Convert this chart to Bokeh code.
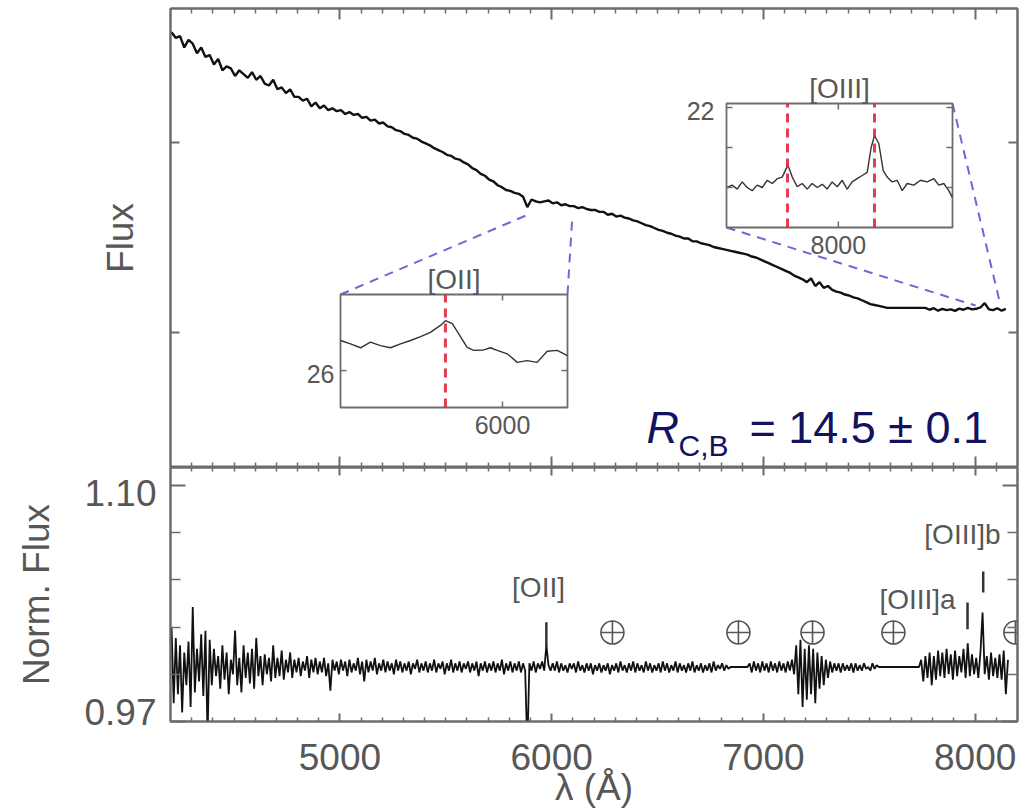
import numpy as np
from bokeh.plotting import figure
from bokeh.models import (Range1d, LinearAxis, FixedTicker, CustomJSTickFormatter,
                          CustomLabelingPolicy)
from bokeh.layouts import column
from bokeh.embed import file_html
from bokeh.resources import INLINE
from bokeh.core.properties import value

# ---------------- data ----------------
flux_wave = np.arange(4205, 8160, 20)          # Å, sampling grid of the top spectrum
flux_values = [
    35.8, 35.5, 35.6, 35.0, 35.4, 35.2, 34.7, 35.0, 34.5, 34.6,
    34.1, 34.4, 33.8, 34.0, 33.9, 33.5, 33.8, 33.6, 33.4, 33.7,
    33.3, 33.5, 33.1, 33.0, 33.3, 32.8, 32.9, 32.6, 32.8, 32.4,
    32.4, 32.2, 32.3, 31.9, 32.1, 31.8, 31.95, 31.7, 31.8, 31.65,
    31.7, 31.5, 31.6, 31.45, 31.5, 31.3, 31.35, 31.15, 31.2, 31.0,
    31.05, 30.85, 30.8, 30.65, 30.6, 30.45, 30.4, 30.25, 30.2, 30.05,
    29.95, 29.85, 29.7, 29.6, 29.5, 29.35, 29.3, 29.15, 29.1, 28.95,
    28.85, 28.65, 28.55, 28.35, 28.25, 28.05, 27.95, 27.75, 27.65, 27.5,
    27.45, 27.35, 27.3, 27.15, 26.6, 27.0, 26.9, 26.85, 26.9, 26.95,
    26.8, 26.85, 26.7, 26.75, 26.65, 26.65, 26.55, 26.6, 26.5, 26.45,
    26.45, 26.35, 26.35, 26.2, 26.25, 26.1, 26.15, 26.05, 26.0, 25.9,
    25.85, 25.75, 25.65, 25.6, 25.5, 25.4, 25.35, 25.25, 25.2, 25.1,
    25.05, 24.95, 24.95, 24.8, 24.8, 24.7, 24.65, 24.6, 24.5, 24.45,
    24.4, 24.35, 24.3, 24.25, 24.2, 24.15, 24.1, 24.0, 23.95, 23.85,
    23.75, 23.65, 23.55, 23.45, 23.35, 23.25, 23.15, 23.0, 22.9, 22.8,
    22.65, 22.85, 22.45, 22.65, 22.35, 22.45, 22.25, 22.15, 22.1, 22.0,
    21.95, 21.85, 21.8, 21.7, 21.6, 21.5, 21.45, 21.4, 21.35, 21.3,
    21.3, 21.3, 21.3, 21.3, 21.3, 21.3, 21.3, 21.3, 21.3, 21.2,
    21.28, 21.15, 21.25, 21.18, 21.22, 21.14, 21.26, 21.2, 21.3, 21.22,
    21.25, 21.32, 21.55, 21.22, 21.18, 21.28, 21.15, 21.25,
]

norm_wave = np.arange(4205, 8160, 10)          # Å, sampling grid of the normalised spectrum
norm_values = [
    1.022, 0.980, 1.016, 0.985, 1.012, 0.975, 1.008, 0.990, 1.014, 0.978,
    1.033, 0.986, 1.010, 0.992, 1.018, 0.984, 1.020, 0.962, 1.015, 0.990,
    1.010, 0.995, 1.006, 0.988, 1.012, 0.993, 1.008, 0.985, 1.004, 0.996,
    1.020, 0.990, 1.005, 0.986, 1.012, 0.994, 1.008, 0.991, 1.010, 0.988,
    1.016, 0.995, 1.006, 0.990, 1.007, 0.996, 1.005, 0.992, 1.012, 0.994,
    1.005, 0.995, 1.009, 0.993, 1.004, 0.997, 1.008, 0.994, 1.004, 0.997,
    1.005, 0.995, 1.003, 0.998, 1.006, 0.994, 1.004, 0.997, 1.005, 0.996,
    1.003, 0.997, 1.005, 0.995, 1.002, 0.987, 1.004, 0.998, 1.003, 0.996,
    1.004, 0.998, 1.003, 0.995, 1.004, 0.997, 1.002, 0.998, 1.005, 0.996,
    1.003, 0.992, 1.004, 0.997, 1.003, 0.998, 1.005, 0.996, 1.002, 0.998,
    1.004, 0.997, 1.003, 0.998, 1.002, 0.996, 1.004, 0.998, 1.003, 0.997,
    1.002, 0.998, 1.003, 0.996, 1.002, 0.999, 1.004, 0.997, 1.002, 0.998,
    1.003, 0.997, 1.002, 0.998, 1.004, 0.997, 1.002, 0.999, 1.003, 0.996,
    1.002, 0.998, 1.004, 0.997, 1.002, 0.998, 1.003, 0.997, 1.002, 0.999,
    1.003, 0.997, 1.002, 0.998, 1.003, 0.995, 1.002, 0.998, 1.003, 0.997,
    1.002, 0.998, 1.003, 0.997, 1.002, 0.998, 1.004, 0.996, 1.002, 0.998,
    1.003, 0.997, 1.002, 0.998, 1.003, 0.997, 1.002, 0.998, 0.955, 1.002,
    0.998, 1.003, 0.997, 1.002, 0.999, 1.003, 0.998, 1.012, 1.001, 0.998,
    1.002, 0.998, 1.003, 0.997, 1.002, 0.998, 1.001, 0.997, 1.002, 0.999,
    1.002, 0.997, 1.003, 0.998, 1.001, 0.997, 1.002, 0.998, 1.002, 0.996,
    1.001, 0.998, 1.002, 0.997, 1.001, 0.998, 1.002, 0.996, 1.001, 0.998,
    1.002, 0.997, 1.003, 0.998, 1.001, 0.997, 1.002, 0.998, 1.003, 0.997,
    1.002, 0.998, 1.001, 0.997, 1.003, 0.998, 1.002, 0.997, 1.001, 0.998,
    1.002, 0.997, 1.003, 0.998, 1.002, 0.997, 1.001, 0.998, 1.003, 0.997,
    1.002, 0.998, 1.001, 0.997, 1.002, 0.998, 1.003, 0.997, 1.001, 0.998,
    1.002, 0.997, 1.001, 0.998, 1.002, 0.997, 1.003, 0.998, 1.001, 0.999,
    1.002, 0.998, 1.001, 0.999, 1.000, 1.000, 1.000, 1.000, 1.000, 1.000,
    1.000, 1.000, 1.000, 1.002, 0.997, 1.003, 0.998, 1.002, 0.997, 1.003,
    0.998, 1.002, 0.997, 1.003, 0.998, 1.002, 0.997, 1.003, 0.998, 1.002,
    0.997, 1.003, 0.998, 1.004, 0.996, 1.012, 0.985, 1.015, 0.978, 1.010,
    0.982, 1.012, 0.985, 1.010, 0.980, 1.008, 0.988, 1.006, 0.990, 1.004,
    0.994, 1.003, 0.997, 1.002, 0.998, 1.002, 0.997, 1.002, 0.998, 1.001,
    0.998, 1.002, 0.997, 1.002, 0.998, 1.001, 0.998, 1.002, 0.999, 1.000,
    0.998, 1.002, 0.999, 1.001, 1.000, 1.000, 1.000, 1.000, 1.000, 1.000,
    1.000, 1.000, 1.000, 1.000, 1.000, 1.000, 1.000, 1.000, 1.000, 1.000,
    1.000, 1.000, 1.000, 1.000, 1.004, 0.992, 1.006, 0.994, 1.008, 0.990,
    1.006, 0.993, 1.009, 0.995, 1.008, 0.994, 1.010, 0.996, 1.007, 0.993,
    1.009, 0.995, 1.006, 0.997, 1.010, 0.994, 1.013, 0.995, 1.007, 0.996,
    1.005, 0.994, 1.008, 1.030, 0.996, 1.006, 0.993, 1.008, 0.995, 1.005,
    0.994, 1.007, 0.993, 1.009, 0.985, 1.004,
]

# [OII] inset
oii_inset_wave = [5929, 5933.4, 5937.8, 5942.1, 5946.5, 5950.9, 5955.3, 5959.7, 5964.1, 5968.4,
                  5972.8, 5975.0, 5978.0, 5980.9, 5984.5, 5987.4, 5991.8, 5994.7, 5997.7, 6002.1,
                  6006.5, 6010.8, 6015.2, 6019.6, 6024.0, 6028.4]
oii_inset_flux = [26.70, 26.62, 26.53, 26.66, 26.58, 26.53, 26.62, 26.70, 26.79, 26.89,
                  27.05, 27.16, 27.09, 26.85, 26.54, 26.47, 26.48, 26.53, 26.47, 26.39,
                  26.19, 26.23, 26.19, 26.45, 26.47, 26.35]
oii_inset_xlim = (5929, 6028.5)
oii_inset_ylim = (25.14, 27.77)
oii_inset_xticks = [6000]
oii_inset_yticks = [26]
oii_line_wave = [5975]

# [OIII] inset
oiii_inset_wave = [7901.6, 7906, 7910.5, 7914.9, 7919.3, 7923.7, 7928.2, 7932.6, 7937, 7941.5,
                   7945.9, 7950.3, 7955.3, 7959.2, 7963.6, 7968, 7972.4, 7976.8, 7981.3, 7985.7,
                   7990.1, 7994.5, 7999, 8003.4, 8007.8, 8012.2, 8016.6, 8021.1, 8025.5, 8029,
                   8032, 8035.8, 8039.7, 8043.2, 8047.6, 8052, 8056.5, 8060.9, 8066.8, 8072.7,
                   8078.6, 8084.5, 8088.9, 8093.3, 8097.7, 8100.7]
oiii_inset_flux = [21.00, 21.03, 20.98, 21.07, 21.00, 20.96, 21.03, 21.00, 21.09, 21.05,
                   21.11, 21.13, 21.28, 21.13, 21.01, 21.05, 20.98, 21.05, 21.00, 21.04,
                   20.98, 21.07, 21.01, 21.09, 20.98, 21.07, 21.11, 21.15, 21.19, 21.50,
                   21.65, 21.55, 21.21, 21.13, 21.07, 21.09, 20.96, 21.05, 21.03, 21.09,
                   21.07, 21.11, 21.03, 21.05, 20.96, 20.88]
oiii_inset_xlim = (7901, 8101)
oiii_inset_ylim = (20.5, 22.05)
oiii_inset_xticks = [8000]
oiii_inset_yticks = [21.0, 21.5, 22.0]
oiii_inset_ylabel_ticks = [22]
oiii_line_wave = [7955, 8032]

# zoom windows on the main spectrum (where connectors end)
oii_zoom_wave = [5900, 6098]
oii_zoom_flux = [26.26, 26.16]
oiii_zoom_wave = [8002, 8120]
oiii_zoom_flux = [21.42, 21.42]

# lower panel annotations
telluric_wave = [6287, 6882, 7232, 7614, 8190]
telluric_level = 1.019
line_mark_wave = [5975, 7964, 8038]
line_mark_low = [1.011, 1.0208, 1.041]
line_mark_high = [1.0246, 1.0355, 1.0525]
line_label_text = ["[OII]", "[OIII]a", "[OIII]b"]
line_label_wave = [5938, 7728, 7940]
line_label_level = [1.0437, 1.0372, 1.0727]

# axes
x_major_ticks = [5000, 6000, 7000, 8000]
x_minor_ticks = [4300, 4400, 4500, 4600, 4700, 4800, 4900, 5100, 5200, 5300, 5400, 5500, 5600,
                 5700, 5800, 5900, 6100, 6200, 6300, 6400, 6500, 6600, 6700, 6800, 6900, 7100,
                 7200, 7300, 7400, 7500, 7600, 7700, 7800, 7900, 8100]
flux_ticks = [20, 30]
norm_label_ticks = [0.97, 1.10]
norm_label_text = ["0.97", "1.10"]
norm_minor_ticks = [0.996, 1.022, 1.048, 1.074]

MAIN_X = (4200, 8200)
FLUX_Y = (12.9, 37.05)
NORM_Y = (0.97, 1.1098)

# ---------------- layout constants (pixels) ----------------
W = 1029
FRAME_L, FRAME_R = 170, 1017
TOP_FRAME_T, TOP_FRAME_B = 8, 467
BOT_FRAME_B = 723
BOT_H = 810 - 467
OII_BOX = dict(left=340, right=567, top=294, bottom=407)
OIII_BOX = dict(left=726, right=952, top=103, bottom=227)
NORM_LABEL_SHIFT_PX = [-10, 8]   # IDL draws the end labels slightly inside the axis

GRAY = "#6c6c6c"
TEXT = "#575757"
FONT = "Liberation Sans"
NAVY = "#12125f"


def mx(px):
    return MAIN_X[0] + (px - FRAME_L) * (MAIN_X[1] - MAIN_X[0]) / (FRAME_R - FRAME_L)


def my(py):
    return FLUX_Y[1] - (py - TOP_FRAME_T) * (FLUX_Y[1] - FLUX_Y[0]) / (TOP_FRAME_B - TOP_FRAME_T)


def style_fig(p):
    p.grid.visible = False
    p.outline_line_color = GRAY
    p.outline_line_width = 2
    p.background_fill_color = "white"
    p.border_fill_color = "white"


def no_labels():
    return CustomLabelingPolicy(code="for (const i of indices) { if (i < 0) yield i }")


def add_axis(p, side, ticker, major_in, minor_in, labels=False, formatter=None,
             label_standoff=0, axis_label=None, axis_label_standoff=0, size="37px"):
    ax = LinearAxis(ticker=ticker)
    if formatter is not None:
        ax.formatter = formatter
    ax.axis_line_color = GRAY
    ax.axis_line_width = 2
    ax.major_tick_in = major_in
    ax.major_tick_out = 0
    ax.minor_tick_in = minor_in
    ax.minor_tick_out = 0
    ax.major_tick_line_color = GRAY
    ax.major_tick_line_width = 2
    ax.minor_tick_line_color = GRAY
    ax.minor_tick_line_width = 1.5
    ax.major_label_standoff = label_standoff
    ax.major_label_text_font = FONT
    ax.major_label_text_color = TEXT
    if labels:
        ax.major_label_text_font_size = size
    else:
        ax.major_label_text_font_size = "0px"
        ax.major_label_policy = no_labels()
    if axis_label:
        ax.axis_label = axis_label
        ax.axis_label_text_font = FONT
        ax.axis_label_text_font_size = size
        ax.axis_label_text_font_style = "normal"
        ax.axis_label_text_color = TEXT
        ax.axis_label_standoff = axis_label_standoff
    p.add_layout(ax, side)
    return ax


# ---------------- top panel ----------------
top = figure(width=W, height=TOP_FRAME_B, x_range=Range1d(*MAIN_X), y_range=Range1d(*FLUX_Y),
             output_backend="svg", toolbar_location=None,
             x_axis_location=None, y_axis_location=None,
             min_border_left=FRAME_L, min_border_right=W - FRAME_R,
             min_border_top=TOP_FRAME_T, min_border_bottom=0)
style_fig(top)

xt = FixedTicker(ticks=x_major_ticks, minor_ticks=x_minor_ticks)
add_axis(top, "below", xt, 11, 5)
add_axis(top, "above", xt, 11, 5)
ft = FixedTicker(ticks=flux_ticks, minor_ticks=[])
add_axis(top, "left", ft, 9, 0, axis_label="Flux", axis_label_standoff=30)
add_axis(top, "right", ft, 9, 0)

top.line(flux_wave, flux_values, color="#111111", line_width=2.4)


def inset_ranges(box, xlim, ylim):
    sx = (xlim[1] - xlim[0]) / (box["right"] - box["left"])
    sy = (ylim[1] - ylim[0]) / (box["bottom"] - box["top"])
    xr = Range1d(xlim[0] - (box["left"] - FRAME_L) * sx, xlim[1] + (FRAME_R - box["right"]) * sx)
    yr = Range1d(ylim[0] - (TOP_FRAME_B - box["bottom"]) * sy, ylim[1] + (box["top"] - TOP_FRAME_T) * sy)
    return xr, yr, sx, sy


# connectors (drawn first, underneath the inset boxes)
conn_color = "#6a6ad2"
oii_corners_x = [mx(OII_BOX["left"]), mx(OII_BOX["right"])]
oii_corners_y = [my(OII_BOX["top"]), my(OII_BOX["top"])]
top.segment(x0=oii_corners_x, y0=oii_corners_y, x1=oii_zoom_wave, y1=oii_zoom_flux,
            line_color=conn_color, line_width=2, line_dash="9 7")
oiii_corners_x = [mx(OIII_BOX["left"]), mx(OIII_BOX["right"])]
oiii_corners_y = [my(OIII_BOX["bottom"]), my(OIII_BOX["top"])]
top.segment(x0=oiii_corners_x, y0=oiii_corners_y, x1=oiii_zoom_wave, y1=oiii_zoom_flux,
            line_color=conn_color, line_width=2, line_dash="9 7")


def draw_inset(name, box, xlim, ylim, wave, flux, lines, xticks, yticks, ylabel_ticks, title,
               ylabel_dx):
    xr, yr, sx, sy = inset_ranges(box, xlim, ylim)
    top.extra_x_ranges[name + "_x"] = xr
    top.extra_y_ranges[name + "_y"] = yr
    kw = dict(x_range_name=name + "_x", y_range_name=name + "_y")
    top.quad(left=[xlim[0]], right=[xlim[1]], bottom=[ylim[0]], top=[ylim[1]],
             fill_color="white", line_color=GRAY, line_width=1.8, **kw)
    top.line(wave, flux, color="#333333", line_width=1.4, **kw)
    top.segment(x0=lines, x1=lines, y0=[ylim[0]] * len(lines), y1=[ylim[1]] * len(lines),
                line_color="#e0283c", line_width=3, line_dash="9 6", line_alpha=0.9, **kw)
    tl = 6
    top.segment(x0=xticks, x1=xticks, y0=[ylim[0]] * len(xticks),
                y1=[ylim[0] + tl * sy] * len(xticks), line_color=GRAY, line_width=1.5, **kw)
    top.segment(x0=xticks, x1=xticks, y0=[ylim[1]] * len(xticks),
                y1=[ylim[1] - tl * sy] * len(xticks), line_color=GRAY, line_width=1.5, **kw)
    top.segment(x0=[xlim[0]] * len(yticks), x1=[xlim[0] + tl * sx] * len(yticks), y0=yticks,
                y1=yticks, line_color=GRAY, line_width=1.5, **kw)
    top.segment(x0=[xlim[1]] * len(yticks), x1=[xlim[1] - tl * sx] * len(yticks), y0=yticks,
                y1=yticks, line_color=GRAY, line_width=1.5, **kw)
    top.text(x=xticks, y=[ylim[0]] * len(xticks), text=[str(t) for t in xticks],
             text_align="center", text_baseline="top", y_offset=8,
             text_font=value(FONT), text_font_size=value("25px"), text_color=TEXT, **kw)
    top.text(x=[xlim[0]] * len(ylabel_ticks), y=ylabel_ticks, text=[str(t) for t in ylabel_ticks],
             text_align="right", text_baseline="middle", x_offset=ylabel_dx, y_offset=3,
             text_font=value(FONT), text_font_size=value("25px"), text_color=TEXT, **kw)
    top.text(x=[(xlim[0] + xlim[1]) / 2], y=[ylim[1]], text=[title],
             text_align="center", text_baseline="bottom", y_offset=0,
             text_font=value(FONT), text_font_size=value("28px"), text_color=TEXT, **kw)


draw_inset("oii", OII_BOX, oii_inset_xlim, oii_inset_ylim, oii_inset_wave, oii_inset_flux,
           oii_line_wave, oii_inset_xticks, oii_inset_yticks, oii_inset_yticks, "[OII]", -6)
draw_inset("oiii", OIII_BOX, oiii_inset_xlim, oiii_inset_ylim, oiii_inset_wave, oiii_inset_flux,
           oiii_line_wave, oiii_inset_xticks, oiii_inset_yticks, oiii_inset_ylabel_ticks, "[OIII]", -12)

# R_{C,B} annotation
top.text(x=[mx(646)], y=[my(427)], text=["R"], text_font=value(FONT),
         text_font_style="italic", text_font_size=value("45px"), text_color=NAVY,
         text_baseline="middle", text_align="left")
top.text(x=[mx(678)], y=[my(445)], text=["C,B"], text_font=value(FONT),
         text_font_size=value("30px"), text_color=NAVY,
         text_baseline="middle", text_align="left")
top.text(x=[mx(749)], y=[my(427)], text=["= 14.5 ± 0.1"], text_font=value(FONT),
         text_font_size=value("45px"), text_color=NAVY,
         text_baseline="middle", text_align="left")

# ---------------- bottom panel ----------------
bot = figure(width=W, height=BOT_H, x_range=top.x_range, y_range=Range1d(*NORM_Y),
             output_backend="svg", toolbar_location=None,
             x_axis_location=None, y_axis_location=None,
             min_border_left=FRAME_L, min_border_right=W - FRAME_R,
             min_border_top=0, min_border_bottom=0)
style_fig(bot)
add_axis(bot, "below", xt, 8, 4, labels=True, label_standoff=22,
         axis_label="λ (Å)", axis_label_standoff=-6)
add_axis(bot, "above", xt, 8, 4)
nt = FixedTicker(ticks=norm_label_ticks, minor_ticks=norm_minor_ticks)
add_axis(bot, "left", nt, 15, 10)          # tick marks only
add_axis(bot, "right", nt, 15, 10)

# labels of the left axis, drawn a few pixels inside the axis ends like the original
per_px = (NORM_Y[1] - NORM_Y[0]) / (BOT_FRAME_B - TOP_FRAME_B)
label_pos = [t + s * per_px for t, s in zip(norm_label_ticks, [-NORM_LABEL_SHIFT_PX[0], -NORM_LABEL_SHIFT_PX[1]])]
lab_ax = LinearAxis(ticker=FixedTicker(ticks=label_pos, minor_ticks=[]),
                    formatter=CustomJSTickFormatter(
                        args=dict(lo=norm_label_text[0], hi=norm_label_text[1],
                                  mid=(NORM_Y[0] + NORM_Y[1]) / 2),
                        code="return tick > mid ? hi : lo"))
lab_ax.axis_line_alpha = 0
lab_ax.major_tick_in = 0
lab_ax.major_tick_out = 0
lab_ax.minor_tick_in = 0
lab_ax.minor_tick_out = 0
lab_ax.major_tick_line_alpha = 0
lab_ax.minor_tick_line_alpha = 0
lab_ax.major_label_standoff = 14
lab_ax.major_label_text_font = FONT
lab_ax.major_label_text_font_size = "37px"
lab_ax.major_label_text_color = TEXT
lab_ax.axis_label = "Norm. Flux"
lab_ax.axis_label_text_font = FONT
lab_ax.axis_label_text_font_size = "37px"
lab_ax.axis_label_text_font_style = "normal"
lab_ax.axis_label_text_color = TEXT
lab_ax.axis_label_standoff = 24
bot.add_layout(lab_ax, "left")

bot.line(norm_wave, norm_values, color="#111111", line_width=1.8)

bot.scatter(x=telluric_wave, y=[telluric_level] * len(telluric_wave), marker="circle_cross",
            size=23, fill_color=None, line_color="#555555", line_width=1.6)
bot.segment(x0=line_mark_wave, x1=line_mark_wave, y0=line_mark_low, y1=line_mark_high,
            line_color="#333333", line_width=2.5)
bot.text(x=line_label_wave, y=line_label_level, text=line_label_text,
         text_align="center", text_baseline="middle",
         text_font=value(FONT), text_font_size=value("28px"), text_color=TEXT)

layout = column(top, bot, spacing=0)
open("out.html", "w").write(file_html(layout, INLINE))
